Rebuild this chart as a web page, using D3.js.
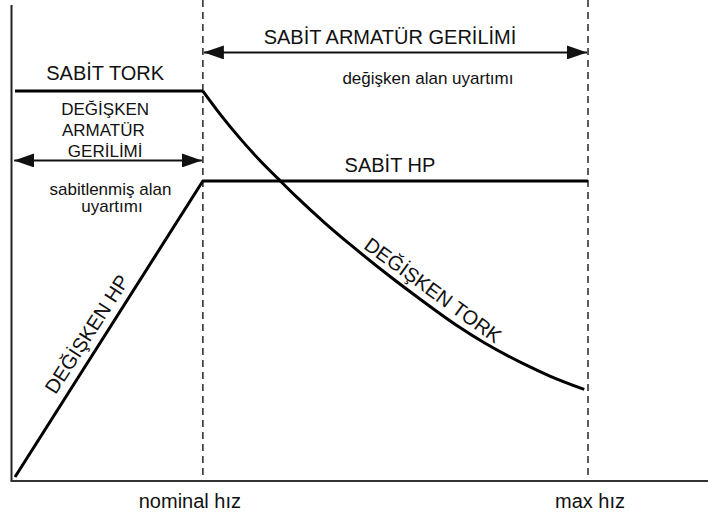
<!DOCTYPE html>
<html>
<head>
<meta charset="utf-8">
<script src="https://cdn.jsdelivr.net/npm/d3@7.9.0/dist/d3.min.js"></script>
<style>
  body { margin: 0; background: #fff; }
  svg { display: block; font-family: "Liberation Sans", Arial, sans-serif; }
</style>
</head>
<body>
<div id="chart"></div>
<script>
// speed in % of nominal, torque / hp in % of the rated torque level
const torqueFlatSpeed = [0, 100];
const torqueFlatValue = [100, 100];
const torqueCurveSpeed = [100, 110, 120, 130, 140, 150, 165, 180, 200, 215, 235, 250, 270, 285, 303];
const torqueCurveValue = [100, 93.5, 87.6, 82.2, 77.3, 72.5, 65.8, 59.6, 51.8, 46.3, 39.3, 34.7, 29.5, 26.1, 22.7];
const hpSpeed = [0, 100, 305];
const hpValue = [0, 76.7, 76.7];

const speedMarks = [100, 305];
const speedLabels = ["nominal hız", "max hız"];

// double arrows: speed range + level
const spans = [
    {from: -1, to: 100, level: 82},
    {from: 100, to: 305, level: 110}
];

// annotations in data units
const notes = [
    {text: "SABİT TORK", sx: 48, sy: 102.8, size: 20, angle: 0},
    {text: "DEĞİŞKEN", sx: 48, sy: 93.8, size: 17, angle: 0},
    {text: "ARMATÜR", sx: 47, sy: 88.3, size: 17, angle: 0},
    {text: "GERİLİMİ", sx: 48, sy: 82.9, size: 17, angle: 0},
    {text: "sabitlenmiş alan", sx: 50.8, sy: 73.1, size: 17, angle: 0},
    {text: "uyartımı", sx: 51.6, sy: 68.7, size: 17, angle: 0},
    {text: "SABİT ARMATÜR GERİLİMİ", sx: 199.6, sy: 112.2, size: 20, angle: 0},
    {text: "değişken alan uyartımı", sx: 219.8, sy: 101.8, size: 17, angle: 0},
    {text: "SABİT HP", sx: 199.6, sy: 79.0, size: 20, angle: 0},
    {text: "DEĞİŞKEN TORK", sx: 222.5, sy: 48.4, size: 20, angle: 36, mid: true},
    {text: "DEĞİŞKEN HP", sx: 38.3, sy: 37.0, size: 20, angle: -57, mid: true}
];

const W = 708, H = 517;

const svg = d3.select("#chart")
    .append("svg")
    .attr("width", W)
    .attr("height", H);

const x = d3.scaleLinear().domain([0, 305]).range([15, 588]);
const y = d3.scaleLinear().domain([0, 100]).range([477, 91]);

const axisX = x(0) - 3.5;
const axisY = y(0) + 4;

// arrow heads
const defs = svg.append("defs");
defs.append("marker")
    .attr("id", "head")
    .attr("markerUnits", "userSpaceOnUse")
    .attr("viewBox", "0 0 20 14")
    .attr("refX", 20)
    .attr("refY", 7)
    .attr("markerWidth", 20)
    .attr("markerHeight", 14)
    .attr("orient", "auto-start-reverse")
    .append("path")
    .attr("d", "M0,0L20,7L0,14Z")
    .attr("fill", "#111");

// axes frame
svg.append("line")
    .attr("x1", axisX).attr("x2", axisX)
    .attr("y1", 5).attr("y2", axisY)
    .attr("stroke", "#222")
    .attr("stroke-width", 2);

svg.append("line")
    .attr("x1", axisX - 1).attr("x2", W)
    .attr("y1", axisY).attr("y2", axisY)
    .attr("stroke", "#333")
    .attr("stroke-width", 2);

// dashed speed markers
svg.selectAll(".mark")
    .data(speedMarks)
    .enter().append("line")
    .attr("class", "mark")
    .attr("x1", d => x(d)).attr("x2", d => x(d))
    .attr("y1", 0).attr("y2", axisY - 1)
    .attr("stroke", "#333")
    .attr("stroke-width", 1.6)
    .attr("stroke-dasharray", "7,5");

svg.selectAll(".speedLabel")
    .data(speedMarks)
    .enter().append("text")
    .attr("class", "speedLabel")
    .attr("x", (d, i) => x(d) + (i === 0 ? -13 : 2))
    .attr("y", axisY + 27)
    .attr("text-anchor", "middle")
    .attr("font-size", "20px")
    .attr("fill", "#111")
    .text((d, i) => speedLabels[i]);

// span arrows
svg.selectAll(".span")
    .data(spans)
    .enter().append("line")
    .attr("class", "span")
    .attr("x1", d => x(d.from) + 1).attr("x2", d => x(d.to) - 1)
    .attr("y1", d => y(d.level)).attr("y2", d => y(d.level))
    .attr("stroke", "#111")
    .attr("stroke-width", 2)
    .attr("marker-start", "url(#head)")
    .attr("marker-end", "url(#head)");

// curves
const line = d3.line()
    .x(d => x(d[0]))
    .y(d => y(d[1]));

svg.append("path")
    .datum(d3.zip(torqueFlatSpeed, torqueFlatValue))
    .attr("d", line)
    .attr("fill", "none")
    .attr("stroke", "#000")
    .attr("stroke-width", 3);

svg.append("path")
    .datum(d3.zip(torqueCurveSpeed, torqueCurveValue))
    .attr("d", line.curve(d3.curveMonotoneX))
    .attr("fill", "none")
    .attr("stroke", "#000")
    .attr("stroke-width", 3);

svg.append("path")
    .datum(d3.zip(hpSpeed, hpValue))
    .attr("d", d3.line().x(d => x(d[0])).y(d => y(d[1])))
    .attr("fill", "none")
    .attr("stroke", "#000")
    .attr("stroke-width", 3)
    .attr("stroke-linejoin", "miter");

// labels
svg.selectAll(".note")
    .data(notes)
    .enter().append("text")
    .attr("class", "note")
    .attr("transform", d => `translate(${x(d.sx)},${y(d.sy)}) rotate(${d.angle})`)
    .attr("dy", d => d.mid ? "0.35em" : 0)
    .attr("text-anchor", "middle")
    .attr("font-size", d => d.size + "px")
    .attr("fill", "#111")
    .text(d => d.text);
</script>
</body>
</html>
